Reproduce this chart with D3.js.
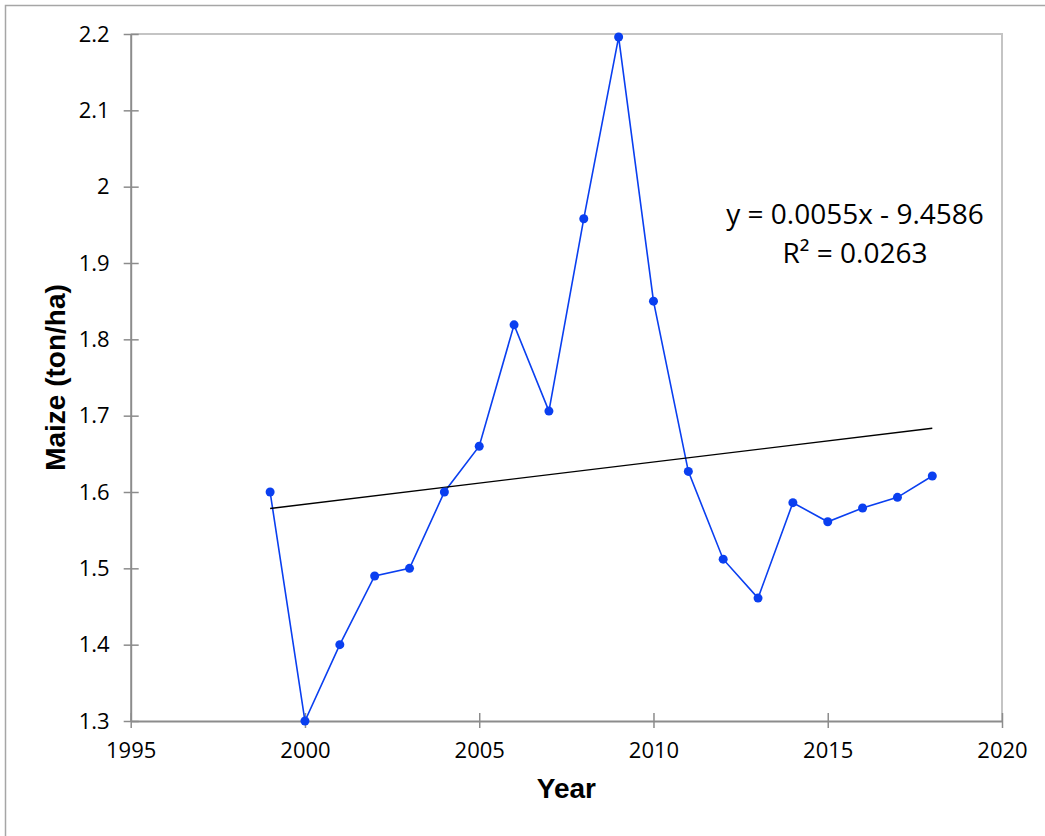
<!DOCTYPE html>
<html>
<head>
<meta charset="utf-8">
<script src="https://cdn.jsdelivr.net/npm/d3@7"></script>
<style>
  body { margin: 0; background: #fff; }
  svg { display: block; }
</style>
</head>
<body>
<svg id="chart" width="1045" height="836"></svg>
<script>
// data
const years = [1999, 2000, 2001, 2002, 2003, 2004, 2005, 2006, 2007, 2008,
               2009, 2010, 2011, 2012, 2013, 2014, 2015, 2016, 2017, 2018];
const maize = [1.600, 1.300, 1.400, 1.490, 1.500, 1.600, 1.660, 1.819, 1.706, 1.958,
               2.196, 1.850, 1.627, 1.512, 1.461, 1.586, 1.561, 1.579, 1.593, 1.621];
const xTicks = [1995, 2000, 2005, 2010, 2015, 2020];
const yTicks = [1.3, 1.4, 1.5, 1.6, 1.7, 1.8, 1.9, 2, 2.1, 2.2];
const equationLines = ["y = 0.0055x - 9.4586", "R² = 0.0263"];

const data = years.map((y, i) => ({ year: y, value: maize[i] }));

const svg = d3.select("#chart");

// outer chart border (runs off right/bottom edges)
svg.append("rect")
    .attr("x", 5.5).attr("y", 5.5)
    .attr("width", 1100).attr("height", 900)
    .attr("fill", "none")
    .attr("stroke", "#a6a6a6")
    .attr("stroke-width", 1.5);

const plot = { left: 130.7, right: 1002, top: 34, bottom: 721 };

const x = d3.scaleLinear().domain([1995, 2020]).range([plot.left, plot.right]);
const y = d3.scaleLinear().domain([1.3, 2.2]).range([plot.bottom, plot.top]);

// plot frame (top / right)
svg.append("path")
    .attr("d", `M${plot.left},${plot.top}H${plot.right}V${plot.bottom}`)
    .attr("fill", "none")
    .attr("stroke", "#c4c4c4")
    .attr("stroke-width", 2);

// axes
const xAxis = svg.append("g")
    .attr("transform", `translate(0,${plot.bottom})`)
    .call(d3.axisBottom(x).tickValues(xTicks).tickFormat(d3.format("d")).tickSizeOuter(0).tickPadding(11));
xAxis.selectAll(".tick line").attr("y1", -8).attr("y2", 7);

const yAxis = svg.append("g")
    .attr("transform", `translate(${plot.left},0)`)
    .call(d3.axisLeft(y).tickValues(yTicks).tickFormat(d => d3.format("")(+d.toFixed(1))).tickSizeOuter(0).tickPadding(15));
yAxis.selectAll(".tick line").attr("x1", 8).attr("x2", -7);

[xAxis, yAxis].forEach(g => {
    g.select(".domain").attr("stroke", "#8c8c8c").attr("stroke-width", 2);
    g.selectAll(".tick line").attr("stroke", "#8c8c8c").attr("stroke-width", 1.5);
    g.selectAll(".tick text")
        .attr("fill", "#000")
        .style("font-family", "'Open Sans', sans-serif")
        .style("font-size", "22px");
});
xAxis.selectAll(".tick text").attr("dy", "0.9em");

// axis titles
svg.append("text")
    .attr("x", (plot.left + plot.right) / 2)
    .attr("y", 798)
    .attr("text-anchor", "middle")
    .style("font-family", "'Liberation Sans', Arial, sans-serif")
    .style("font-size", "28px")
    .style("font-weight", "bold")
    .text("Year");

svg.append("text")
    .attr("transform", `translate(65,${(plot.top + plot.bottom) / 2}) rotate(-90)`)
    .attr("text-anchor", "middle")
    .style("font-family", "'Liberation Sans', Arial, sans-serif")
    .style("font-size", "28px")
    .style("font-weight", "bold")
    .text("Maize (ton/ha)");

// linear trend (least squares)
const mx = d3.mean(data, d => d.year);
const my = d3.mean(data, d => d.value);
const slope = d3.sum(data, d => (d.year - mx) * (d.value - my)) / d3.sum(data, d => (d.year - mx) ** 2);
const intercept = my - slope * mx;
const trend = d3.extent(years).map(yr => ({ year: yr, value: slope * yr + intercept }));

const line = d3.line()
    .x(d => x(d.year))
    .y(d => y(d.value));

svg.append("path")
    .datum(data)
    .attr("d", line)
    .attr("fill", "none")
    .attr("stroke", "#0a3ff0")
    .attr("stroke-width", 1.6);

svg.append("path")
    .datum(trend)
    .attr("d", line)
    .attr("fill", "none")
    .attr("stroke", "#000")
    .attr("stroke-width", 1.3);

svg.append("g")
    .selectAll("circle")
    .data(data)
    .join("circle")
    .attr("cx", d => x(d.year))
    .attr("cy", d => y(d.value))
    .attr("r", 4.5)
    .attr("fill", "#0a3ff0");

// trendline equation
svg.append("g")
    .selectAll("text")
    .data(equationLines)
    .join("text")
    .attr("x", 855)
    .attr("y", (d, i) => 224 + i * 39)
    .attr("text-anchor", "middle")
    .style("font-family", "'Open Sans', sans-serif")
    .style("font-size", "28px")
    .text(d => d);
</script>
</body>
</html>
